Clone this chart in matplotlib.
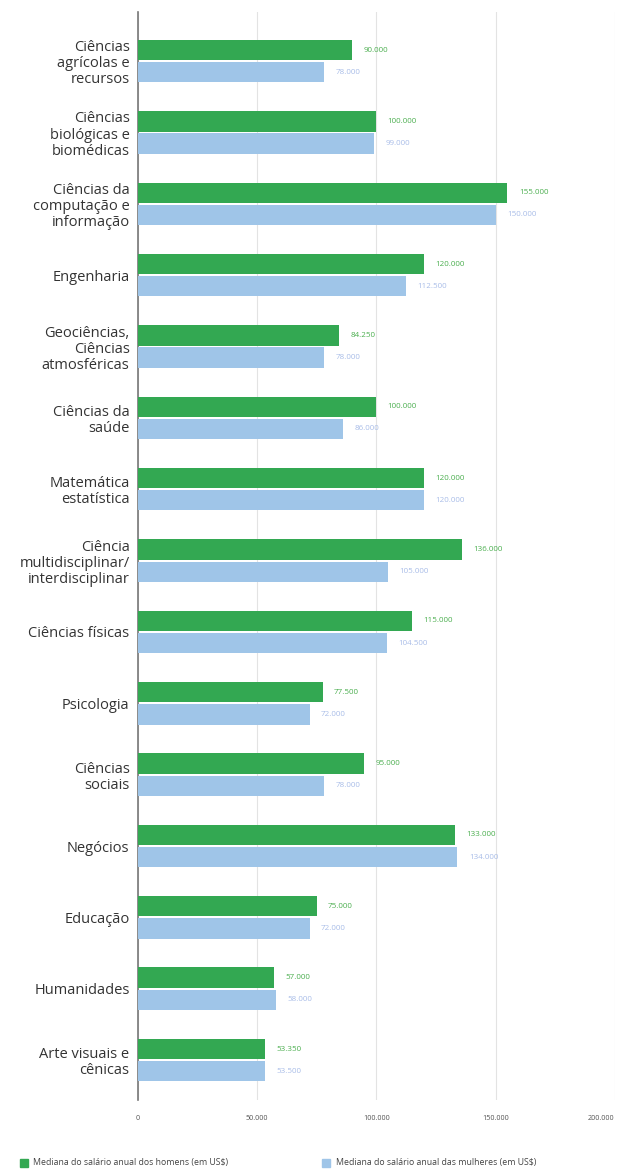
import matplotlib
matplotlib.use("Agg")
import matplotlib.pyplot as plt
import numpy as np

plt.rcParams['font.family'] = ['Open Sans', 'DejaVu Sans']

categories = [
    "Ciências\nagrícolas e\nrecursos",
    "Ciências\nbiológicas e\nbiomédicas",
    "Ciências da\ncomputação e\ninformação",
    "Engenharia",
    "Geociências,\nCiências\natmosféricas",
    "Ciências da\nsaúde",
    "Matemática\nestatística",
    "Ciência\nmultidisciplinar/\ninterdisciplinar",
    "Ciências físicas",
    "Psicologia",
    "Ciências\nsociais",
    "Negócios",
    "Educação",
    "Humanidades",
    "Arte visuais e\ncênicas",
]
men = [90000, 100000, 155000, 120000, 84250, 100000, 120000, 136000,
       115000, 77500, 95000, 133000, 75000, 57000, 53350]
women = [78000, 99000, 150000, 112500, 78000, 86000, 120000, 105000,
         104500, 72000, 78000, 134000, 72000, 58000, 53500]
xticks = [0, 50000, 100000, 150000, 200000]
xtick_labels = ["0", "50.000", "100.000", "150.000", "200.000"]
legend_labels = ["Mediana do salário anual dos homens (em US\\$)",
                 "Mediana do salário anual das mulheres (em US\\$)"]

green = "#33a852"
blue = "#9fc5e8"
green_txt = "#4caf50"
blue_txt = "#a9bde8"


def fmt(v):
    return f"{v:,}".replace(",", ".")


fig = plt.figure(figsize=(6.21, 11.7), dpi=100)
ax = fig.add_axes([0.222, 0.0598, 0.768, 0.930])

y = np.arange(len(categories))
h = 0.285
off = 0.155
ax.barh(y - off, men, height=h, color=green, zorder=3)
ax.barh(y + off, women, height=h, color=blue, zorder=3)

for yi, m, w in zip(y, men, women):
    ax.text(m + 4800, yi - off, fmt(m), va="center", ha="left",
            fontsize=5.8, color=green_txt)
    ax.text(w + 4800, yi + off, fmt(w), va="center", ha="left",
            fontsize=5.8, color=blue_txt)

ax.set_xlim(0, 200000)
ax.set_ylim(14.56, -0.69)
ax.set_yticks(y)
ax.set_yticklabels(categories, fontsize=10.5, color="#333333", linespacing=1.1)
ax.set_xticks(xticks)
ax.set_xticklabels(xtick_labels, fontsize=5.2, color="#555555")
ax.get_xticklabels()[-1].set_horizontalalignment("right")
ax.tick_params(axis="both", length=0)
ax.tick_params(axis="y", pad=6)
ax.tick_params(axis="x", pad=11)

for s in ["top", "right", "bottom"]:
    ax.spines[s].set_visible(False)
ax.spines["left"].set_color("#777777")
ax.spines["left"].set_linewidth(1.2)
ax.grid(axis="x", color="#e3e3e3", linewidth=0.8, zorder=0)
ax.set_axisbelow(True)

# legend at bottom
fig.patches.append(plt.Rectangle((20 / 621, 1 - 1167 / 1170), 8 / 621, 8 / 1170,
                                 transform=fig.transFigure, color=green))
fig.text(33 / 621, 1 - 1163 / 1170, legend_labels[0], fontsize=6.3, color="#444444",
         va="center", ha="left")
fig.patches.append(plt.Rectangle((322 / 621, 1 - 1167 / 1170), 8 / 621, 8 / 1170,
                                 transform=fig.transFigure, color=blue))
fig.text(336 / 621, 1 - 1163 / 1170, legend_labels[1], fontsize=6.3, color="#444444",
         va="center", ha="left")

fig.savefig("out.png", dpi=100, facecolor="white")
